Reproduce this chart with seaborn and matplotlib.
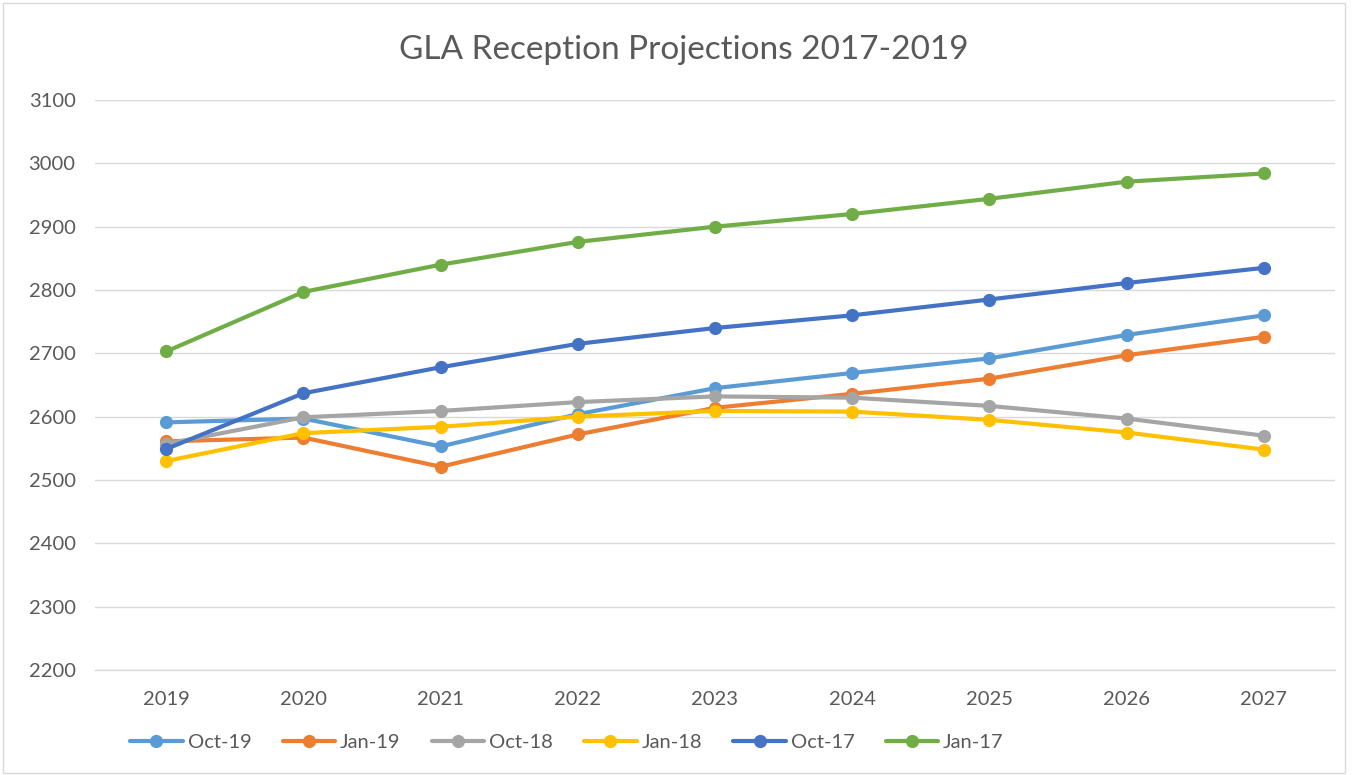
import matplotlib
matplotlib.use("Agg")
import matplotlib.pyplot as plt
import seaborn as sns
import pandas as pd
from matplotlib.patches import Rectangle

years = [2019, 2020, 2021, 2022, 2023, 2024, 2025, 2026, 2027]
series_names = ["Oct-19", "Jan-19", "Oct-18", "Jan-18", "Oct-17", "Jan-17"]
oct19 = [2591, 2597, 2553, 2604, 2645, 2669, 2692, 2729, 2760]
jan19 = [2561, 2567, 2521, 2572, 2614, 2636, 2660, 2697, 2726]
oct18 = [2557, 2599, 2609, 2623, 2632, 2630, 2617, 2597, 2570]
jan18 = [2530, 2574, 2584, 2600, 2609, 2608, 2595, 2575, 2548]
oct17 = [2549, 2637, 2678, 2715, 2740, 2760, 2785, 2811, 2835]
jan17 = [2703, 2797, 2840, 2876, 2900, 2920, 2944, 2971, 2984]
y_ticks = [2200, 2300, 2400, 2500, 2600, 2700, 2800, 2900, 3000, 3100]
title = "GLA Reception Projections 2017-2019"

colors = ["#5B9BD5", "#ED7D31", "#A5A5A5", "#FFC000", "#4472C4", "#70AD47"]

values = [oct19, jan19, oct18, jan18, oct17, jan17]
rows = []
for name, vals in zip(series_names, values):
    for yr, v in zip(years, vals):
        rows.append({"Year": yr, "Value": v, "Series": name})
df = pd.DataFrame(rows)

sns.set_theme(style="white")
plt.rcParams["font.family"] = ["Lato", "DejaVu Sans"]
text_color = "#595959"

fig = plt.figure(figsize=(13.52, 7.75), dpi=100)
ax = fig.add_axes([95 / 1352, 1 - 670 / 775, (1335 - 95) / 1352, (670 - 100) / 775])

sns.lineplot(data=df, x="Year", y="Value", hue="Series", hue_order=series_names,
             palette=colors, marker="o", markersize=9.5, markeredgewidth=0,
             linewidth=3, ax=ax, legend=True)

ax.set_xlim(years[0] - 0.52, years[-1] + 0.52)
ax.set_ylim(y_ticks[0], y_ticks[-1])
ax.set_yticks(y_ticks)
ax.set_xticks(years)
ax.set_xticklabels([str(y) for y in years])
ax.set_xlabel("")
ax.set_ylabel("")
ax.yaxis.grid(True, color="#D9D9D9", linewidth=1)
ax.xaxis.grid(False)
ax.set_axisbelow(True)
for s in ["top", "right", "left"]:
    ax.spines[s].set_visible(False)
ax.spines["bottom"].set_color("#D9D9D9")
ax.spines["bottom"].set_linewidth(1)
ax.tick_params(axis="both", length=0, labelsize=14.5, colors=text_color)
ax.tick_params(axis="y", pad=14)
ax.tick_params(axis="x", pad=15)

handles, labels = ax.get_legend_handles_labels()
ax.legend_.remove()
leg = fig.legend(handles, labels, loc="center", bbox_to_anchor=(567 / 1352, 1 - 742 / 775),
                 ncol=6, frameon=False, fontsize=14.5, handlelength=2.6,
                 columnspacing=1.55, handletextpad=0.25, labelcolor=text_color)

fig.text(684 / 1352, 1 - 50 / 775, title, ha="center", va="center",
         fontsize=24, color=text_color)

fig.patches.append(Rectangle((0.002, 0.003), 0.993, 0.993, transform=fig.transFigure,
                             fill=False, edgecolor="#D9D9D9", linewidth=1))

fig.savefig("out.png", dpi=100)
